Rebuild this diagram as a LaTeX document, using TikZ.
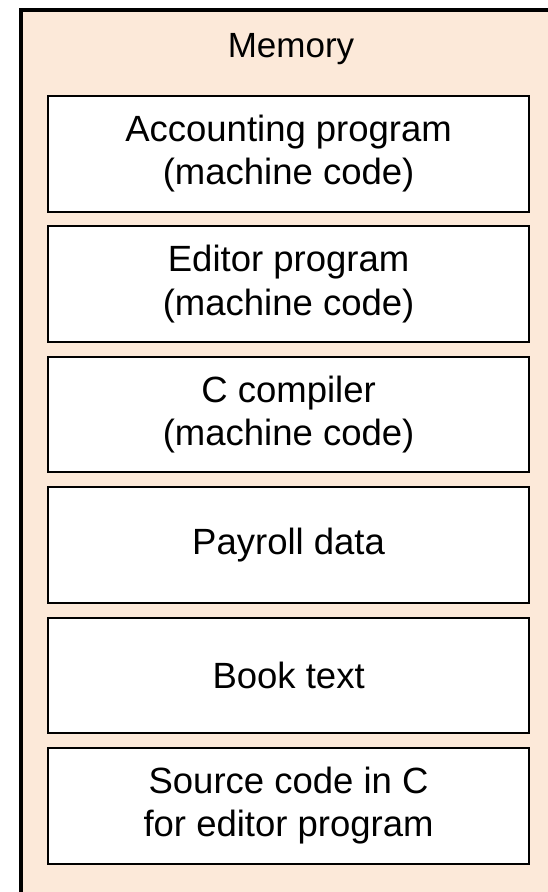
\documentclass[tikz,border=0pt]{standalone}
\usepackage{fontspec}
\setmainfont{Liberation Sans}
\usetikzlibrary{positioning}

\definecolor{memfill}{RGB}{252,233,217}

\begin{document}
\begin{tikzpicture}[x=1pt,y=-1pt,node distance=130.4pt,
                    every node/.style={font=\fontsize{36.5}{43.5}\selectfont}]
	  \tikzstyle{cell}=[draw=black,fill=white,line width=2pt,align=center,
	                    minimum width=481pt,minimum height=115.5pt,inner sep=0pt]

	  \useasboundingbox (0,0) rectangle (548,892);
	  \clip (0,0) rectangle (548,892);
	  % memory block, runs off the right and bottom
	  \draw[fill=memfill,line width=4pt] (20.5,9.5) rectangle (570,894);

	  \node                (mem)   at (291,49)           {\fontsize{35}{42}\selectfont Memory};
	  \node[cell]          (acct)  at (288.6,153.75)     {Accounting program\\(machine code)};
	  \node[cell]          (edit)  [below of=acct]       {Editor program\\(machine code)};
	  \node[cell]          (cc)    [below of=edit]       {C compiler\\(machine code)};
	  \node[cell]          (pay)   [below of=cc]         {Payroll data};
	  \node[cell]          (book)  [below of=pay]        {Book text};
	  \node[cell]          (src)   [below of=book]       {Source code in C\\for editor program};
	\end{tikzpicture}
\end{document}
